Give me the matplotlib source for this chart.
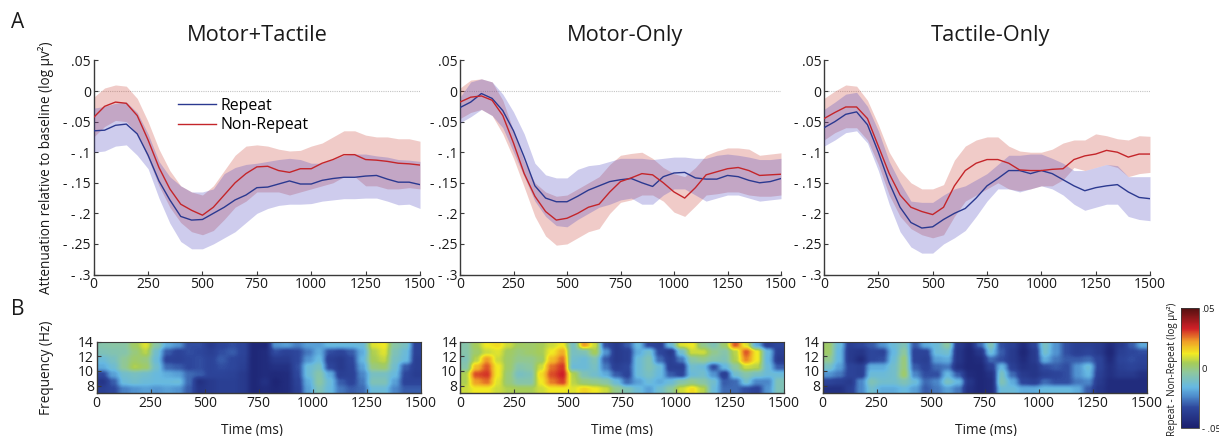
import numpy as np
import matplotlib
matplotlib.use("Agg")
import matplotlib.pyplot as plt
from matplotlib.colors import LinearSegmentedColormap

plt.rcParams["font.family"] = ["Open Sans", "DejaVu Sans"]

W, H = 1219, 436

titles = ["Motor+Tactile", "Motor-Only", "Tactile-Only"]
time_ms = list(range(0, 1501, 50))

# mean and band edges, one value every 50 ms
mt_rep = [-.065,-.064,-.056,-.054,-.07,-.105,-.147,-.178,-.205,-.211,-.21,-.2,-.19,-.178,-.17,-.158,-.157,-.152,-.147,-.152,-.152,-.146,-.143,-.141,-.141,-.139,-.138,-.144,-.149,-.149,-.153]
mt_rep_hi = [-.028,-.025,-.02,-.018,-.035,-.07,-.115,-.14,-.155,-.165,-.165,-.16,-.135,-.125,-.12,-.118,-.115,-.112,-.11,-.112,-.118,-.118,-.112,-.105,-.103,-.103,-.106,-.108,-.112,-.113,-.115]
mt_rep_lo = [-.1,-.098,-.09,-.088,-.105,-.127,-.175,-.216,-.246,-.258,-.258,-.25,-.24,-.23,-.215,-.2,-.192,-.187,-.185,-.185,-.184,-.18,-.178,-.176,-.176,-.175,-.175,-.18,-.186,-.185,-.192]
mt_non = [-.043,-.025,-.018,-.02,-.04,-.08,-.125,-.16,-.185,-.195,-.203,-.19,-.17,-.15,-.135,-.124,-.123,-.13,-.133,-.127,-.127,-.118,-.112,-.104,-.104,-.112,-.113,-.115,-.118,-.119,-.121]
mt_non_hi = [-.01,.005,.01,.008,-.012,-.05,-.095,-.13,-.155,-.165,-.17,-.155,-.13,-.105,-.09,-.088,-.09,-.095,-.098,-.097,-.09,-.085,-.075,-.065,-.065,-.072,-.075,-.075,-.078,-.078,-.082]
mt_non_lo = [-.075,-.058,-.048,-.05,-.07,-.11,-.155,-.19,-.215,-.23,-.235,-.228,-.21,-.19,-.18,-.165,-.165,-.165,-.17,-.165,-.16,-.155,-.15,-.14,-.14,-.155,-.155,-.16,-.16,-.158,-.16]

mo_rep = [-.027,-.018,-.004,-.012,-.032,-.065,-.108,-.155,-.175,-.181,-.181,-.172,-.162,-.155,-.148,-.145,-.143,-.15,-.156,-.14,-.134,-.133,-.142,-.144,-.144,-.138,-.14,-.146,-.15,-.148,-.143]
mo_rep_hi = [-.01,.015,.02,.015,-.005,-.034,-.07,-.118,-.137,-.142,-.142,-.128,-.122,-.12,-.115,-.11,-.11,-.11,-.112,-.11,-.108,-.108,-.11,-.11,-.105,-.103,-.105,-.108,-.112,-.112,-.11]
mo_rep_lo = [-.052,-.042,-.03,-.04,-.06,-.1,-.14,-.18,-.205,-.22,-.222,-.21,-.2,-.19,-.185,-.178,-.175,-.185,-.185,-.17,-.16,-.16,-.17,-.18,-.175,-.17,-.17,-.175,-.18,-.178,-.176]
mo_non = [-.018,-.01,-.008,-.015,-.04,-.085,-.135,-.172,-.197,-.211,-.208,-.2,-.19,-.185,-.165,-.148,-.142,-.135,-.137,-.15,-.165,-.175,-.158,-.137,-.132,-.127,-.125,-.13,-.138,-.137,-.136]
mo_non_hi = [.005,.018,.02,.015,-.015,-.065,-.115,-.15,-.165,-.172,-.17,-.16,-.15,-.14,-.12,-.105,-.102,-.1,-.11,-.125,-.135,-.14,-.125,-.105,-.098,-.093,-.093,-.095,-.105,-.103,-.101]
mo_non_lo = [-.045,-.035,-.03,-.04,-.07,-.11,-.157,-.205,-.237,-.252,-.25,-.24,-.23,-.225,-.2,-.182,-.178,-.17,-.17,-.18,-.198,-.205,-.188,-.17,-.168,-.165,-.165,-.17,-.172,-.172,-.17]

to_rep = [-.06,-.05,-.038,-.034,-.055,-.1,-.15,-.19,-.215,-.224,-.222,-.21,-.2,-.192,-.175,-.155,-.143,-.13,-.13,-.135,-.13,-.135,-.145,-.155,-.163,-.158,-.155,-.153,-.165,-.174,-.176]
to_rep_hi = [-.03,-.018,-.005,-.002,-.025,-.065,-.115,-.15,-.18,-.182,-.182,-.17,-.16,-.155,-.145,-.135,-.12,-.105,-.105,-.103,-.103,-.11,-.118,-.13,-.13,-.125,-.12,-.122,-.14,-.14,-.14]
to_rep_lo = [-.09,-.08,-.068,-.065,-.085,-.13,-.185,-.23,-.255,-.265,-.265,-.25,-.24,-.228,-.205,-.18,-.16,-.16,-.165,-.16,-.155,-.16,-.17,-.185,-.195,-.19,-.185,-.185,-.205,-.21,-.212]
to_non = [-.045,-.035,-.026,-.026,-.045,-.09,-.135,-.17,-.19,-.197,-.202,-.19,-.155,-.13,-.118,-.112,-.112,-.118,-.129,-.13,-.13,-.128,-.127,-.112,-.106,-.103,-.097,-.1,-.108,-.103,-.103]
to_non_hi = [-.012,0,.01,.008,-.015,-.055,-.1,-.13,-.15,-.16,-.16,-.153,-.113,-.09,-.08,-.075,-.075,-.09,-.098,-.1,-.1,-.095,-.085,-.08,-.08,-.07,-.073,-.078,-.08,-.073,-.074]
to_non_lo = [-.08,-.068,-.06,-.06,-.08,-.12,-.17,-.205,-.225,-.235,-.24,-.235,-.205,-.18,-.17,-.16,-.15,-.16,-.163,-.16,-.155,-.155,-.145,-.125,-.13,-.125,-.12,-.125,-.14,-.135,-.133]

# time-frequency maps, rows 14 Hz -> 7 Hz, columns 50 ms wide, units of 0.001
mt_map = [
    [-6,-5,-5,3,10,-5,-18,-22,-32,-32,-38,-34,-32,-34,-46,-46,-22,-20,-25,-20,-20,-15,-15,-15,-14,10,12,-5,-10,-35],
    [-8,-7,-6,0,6,-12,-30,-34,-32,-33,-36,-32,-30,-34,-46,-44,-32,-35,-33,-26,-18,-32,-34,-30,-18,5,10,-8,-14,-35],
    [-14,-10,-3,2,0,-14,-34,-35,-33,-32,-34,-30,-33,-35,-46,-44,-38,-38,-33,-22,-15,-36,-38,-33,-16,4,7,-10,-15,-36],
    [-18,-13,-3,5,2,-12,-28,-30,-33,-32,-34,-32,-33,-36,-46,-44,-42,-42,-32,-14,-10,-33,-38,-34,-20,0,2,-12,-30,-36],
    [-33,-20,-12,-10,-12,-15,-18,-20,-28,-30,-34,-34,-35,-38,-46,-44,-45,-44,-33,-14,-6,-18,-36,-35,-24,-10,-10,-15,-33,-37],
    [-40,-30,-14,-12,-14,-15,-15,-14,-28,-42,-38,-36,-36,-38,-46,-42,-47,-44,-35,-18,-5,-14,-30,-34,-26,-8,-8,-20,-34,-34],
    [-36,-33,-25,-22,-20,-22,-20,-22,-30,-40,-38,-36,-36,-38,-46,-44,-46,-44,-36,-20,-8,-15,-26,-30,-28,-14,-14,-24,-30,-30],
]
mo_map = [
    [-6,4,12,14,8,3,2,4,8,12,-10,22,8,-32,-38,-30,-15,-33,-36,-14,10,12,-2,-8,2,28,10,-18,-36,-33],
    [-6,2,8,10,3,0,2,4,12,20,-10,-8,4,-22,-38,-36,-18,-12,-33,-38,-12,8,8,-2,-6,6,28,12,-15,-36],
    [-8,6,22,8,2,-2,-2,2,18,26,-12,-14,-8,-30,-38,-36,-14,-8,-28,-36,-26,-5,-2,-6,-8,5,24,12,-16,-38],
    [-6,18,28,12,2,-6,-4,8,26,31,-14,-14,-10,-26,-36,-33,-14,-8,-14,-36,-36,-12,-14,-32,-16,-4,8,6,-14,-30],
    [5,29,31,12,0,-10,-8,14,29,33,5,-8,-12,-18,-30,-34,-14,-10,-15,-30,-34,-14,-12,-22,-36,-12,-6,-10,-14,-14],
    [5,22,26,10,0,-6,-6,12,25,30,6,0,-2,-5,-14,-28,-20,-14,-18,-14,-6,-2,-5,-12,-30,-28,-12,-24,-24,-8],
    [8,12,12,8,5,4,4,8,12,12,10,15,12,8,-2,-8,-14,-20,-12,-4,8,14,6,-14,-28,-28,-32,-34,-22,-8],
]
to_map = [
    [2,-14,-36,-33,-30,-22,-14,-8,-30,-18,-14,-4,-38,-44,-28,-8,-32,-36,-44,-34,-10,-22,-32,-36,-36,-38,-44,-38,-30,-18],
    [2,-16,-38,-40,-33,-34,-16,-4,-34,-34,-14,-12,-40,-46,-40,-14,-30,-38,-46,-38,-12,-22,-32,-36,-34,-38,-46,-36,-33,-32],
    [-2,-16,-38,-44,-33,-32,-14,0,-34,-36,-20,-18,-40,-46,-44,-28,-32,-38,-44,-38,-18,-26,-30,-30,-28,-34,-44,-34,-32,-34],
    [-10,-20,-34,-36,-18,-18,-12,0,-30,-34,-28,-26,-42,-46,-46,-36,-16,-36,-42,-40,-32,-30,-32,-22,-14,-34,-42,-36,-34,-36],
    [-22,-26,-34,-36,-14,-14,-12,2,-24,-32,-32,-16,-30,-44,-46,-42,-10,-28,-38,-40,-36,-34,-32,-22,-16,-36,-42,-38,-38,-42],
    [-34,-36,-38,-24,-8,-12,-12,-8,-14,-28,-24,-10,-16,-40,-46,-44,-8,-18,-34,-36,-28,-32,-32,-26,-24,-38,-44,-44,-44,-44],
    [-42,-42,-36,-24,-12,-18,-18,-15,-20,-30,-26,-20,-26,-42,-46,-44,-14,-14,-18,-18,-15,-15,-15,-18,-30,-40,-44,-44,-44,-44],
]

line_boxes = [(93.7, 420), (460, 781), (824, 1150)]
map_boxes = [(96.7, 421), (460, 784), (822.7, 1147)]
title_x = [0.5, 0.515, 0.51]
timelabel_x = [0.48, 0.5, 0.505]

BLUE = "#2b3990"
RED = "#c4252a"
AXC = "#3a3a3a"
TXT = "#1a1a1a"

jet_print = LinearSegmentedColormap.from_list("jet_print", [
    (0.00, "#1b1f6e"), (0.17, "#2e479c"), (0.27, "#4f8fce"), (0.34, "#66b8e2"),
    (0.46, "#8dc7a0"), (0.54, "#a5cc5a"), (0.62, "#f2ea22"), (0.72, "#f0a028"),
    (0.83, "#cf2027"), (1.00, "#531010"),
])


def box(x0, x1, top, bottom):
    return [x0 / W, 1 - bottom / H, (x1 - x0) / W, (bottom - top) / H]


def style(ax):
    ax.spines["top"].set_visible(False)
    ax.spines["right"].set_visible(False)
    for s in ("left", "bottom"):
        ax.spines[s].set_color(AXC)
        ax.spines[s].set_linewidth(1.0)
    ax.tick_params(direction="in", length=3, width=0.8, color=AXC,
                   labelsize=10, labelcolor=TXT, pad=2)


fig = plt.figure(figsize=(W / 100, H / 100), dpi=100)

sets = [
    (mt_rep, mt_rep_hi, mt_rep_lo, mt_non, mt_non_hi, mt_non_lo),
    (mo_rep, mo_rep_hi, mo_rep_lo, mo_non, mo_non_hi, mo_non_lo),
    (to_rep, to_rep_hi, to_rep_lo, to_non, to_non_hi, to_non_lo),
]
y_ticks = [.05, 0, -.05, -.1, -.15, -.2, -.25, -.3]
y_labels = [".05", "0", "- .05", "- .1", "- .15", "- .2", "- .25", "- .3"]
x_ticks = [0, 250, 500, 750, 1000, 1250, 1500]

for i, (xs, d) in enumerate(zip(line_boxes, sets)):
    ax = fig.add_axes(box(xs[0], xs[1], 60.5, 274.5))
    rep, rep_hi, rep_lo, non, non_hi, non_lo = d
    ax.axhline(0, color="#c4c4c4", lw=0.8, ls=(0, (1, 1)), zorder=1)
    ax.fill_between(time_ms, non_lo, non_hi, color="#c8392b", alpha=0.26, lw=0, zorder=2)
    ax.fill_between(time_ms, rep_lo, rep_hi, color="#4a45c0", alpha=0.27, lw=0, zorder=3)
    ax.plot(time_ms, rep, color=BLUE, lw=1.0, zorder=4, label="Repeat")
    ax.plot(time_ms, non, color=RED, lw=1.0, zorder=5, label="Non-Repeat")
    ax.set_xlim(0, 1500)
    ax.set_ylim(-.3, .05)
    ax.set_xticks(x_ticks)
    ax.set_yticks(y_ticks)
    ax.set_yticklabels(y_labels)
    style(ax)
    ax.set_title(titles[i], fontsize=15.7, color=TXT, pad=14, x=title_x[i])
    if i == 0:
        ax.set_ylabel("Attenuation relative to baseline (log µv²)", fontsize=9.8, color=TXT, labelpad=7)
        ax.legend(loc="upper left", bbox_to_anchor=(0.258, 0.825), frameon=False,
                  fontsize=11.4, handlelength=2.4, handletextpad=0.3,
                  labelspacing=0.2, borderpad=0, borderaxespad=0)

maps = [mt_map, mo_map, to_map]
for i, (xs, m) in enumerate(zip(map_boxes, maps)):
    ax = fig.add_axes(box(xs[0], xs[1], 341.5, 393))
    im = ax.imshow(np.array(m) / 1000, cmap=jet_print, vmin=-.05, vmax=.05, aspect="auto",
                   interpolation="hanning", extent=[0, 1500, 7, 14])
    ax.set_xticks(x_ticks)
    ax.set_yticks([8, 10, 12, 14])
    style(ax)
    ax.spines["top"].set_visible(True)
    ax.spines["right"].set_visible(True)
    ax.spines["top"].set_color(AXC)
    ax.spines["right"].set_color(AXC)
    ax.set_xlabel("Time (ms)", fontsize=9.8, color=TXT, labelpad=9, x=timelabel_x[i])
    if i == 0:
        ax.set_ylabel("Frequency (Hz)", fontsize=9.8, color=TXT, labelpad=17)

cax = fig.add_axes(box(1180.7, 1199, 308, 428))
cb = fig.colorbar(im, cax=cax)
cb.set_ticks([.05, 0, -.05])
cb.set_ticklabels([".05", "0", "- .05"])
cb.ax.tick_params(length=0, labelsize=6.8, labelcolor=TXT, pad=2)
cb.outline.set_edgecolor(AXC)
cb.outline.set_linewidth(0.6)
fig.text(1172 / W, 1 - 369 / H, "Repeat - Non-Repeat (log µv²)", rotation=90, fontsize=7.0,
         color=TXT, ha="center", va="center")

fig.text(18 / W, 1 - 23 / H, "A", fontsize=15, color=TXT, ha="center", va="center")
fig.text(18 / W, 1 - 309 / H, "B", fontsize=15, color=TXT, ha="center", va="center")

fig.savefig("out.png", dpi=100)
plt.close(fig)
